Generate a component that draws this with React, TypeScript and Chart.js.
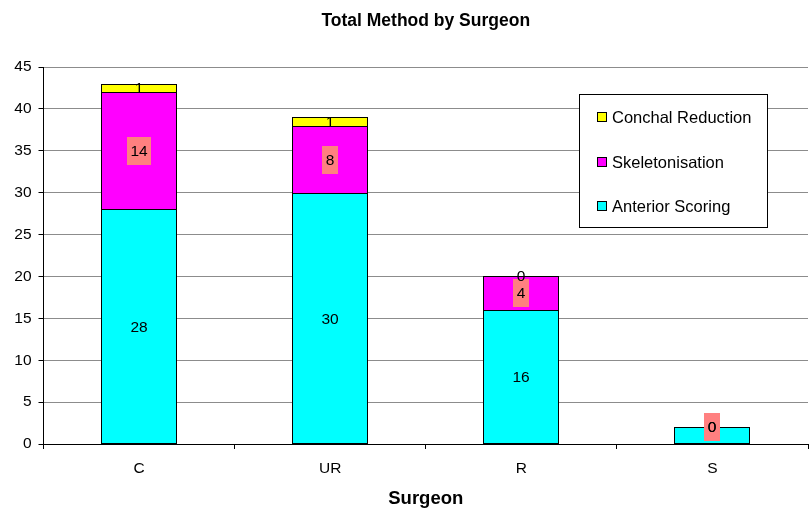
import React, { useEffect, useRef } from "react";
import { Chart, registerables } from "chart.js";

Chart.register(...registerables);

const chartTitle = "Total Method by Surgeon";
const xAxisTitle = "Surgeon";
const surgeons = ["C", "UR", "R", "S"];
const seriesNames = ["Anterior Scoring", "Skeletonisation", "Conchal Reduction"];
const anteriorScoring = [28, 30, 16, 2];
const skeletonisation = [14, 8, 4, 0];
const conchalReduction = [1, 1, 0, 0];
const yMin = 0;
const yMax = 45;
const yStep = 5;

const seriesColors = ["#00FFFF", "#FF00FF", "#FFFF00"];
const labelBoxColors = [null, "#FF8080", null];
const FONT = '"Liberation Sans", Arial, Helvetica, sans-serif';

// snap bar rectangles to whole pixels so the black outlines are crisp, and let
// stacked segments share one outline line with the segment below
const pixelSnap = {
  id: "pixelSnap",
  afterDatasetsUpdate(chart: any) {
    chart.data.datasets.forEach((_ds: any, i: number) => {
      const meta = chart.getDatasetMeta(i);
      meta.data.forEach((el: any) => {
        const w = Math.round(el.width);
        const left = Math.round(el.x - el.width / 2);
        el.width = w;
        el.x = left + w / 2;
        el.y = Math.round(el.y);
        el.base = Math.round(el.base) + (i > 0 ? 1 : 0);
      });
    });
  },
};

const segmentLabels = {
  id: "segmentLabels",
  afterDatasetsDraw(chart: any) {
    const ctx = chart.ctx;
    ctx.save();
    ctx.font = `15.5px ${FONT}`;
    ctx.textAlign = "center";
    ctx.textBaseline = "middle";
    chart.data.datasets.forEach((ds: any, i: number) => {
      const meta = chart.getDatasetMeta(i);
      meta.data.forEach((el: any, j: number) => {
        const text = String(ds.data[j]);
        const base = el.base - (i > 0 ? 1 : 0);
        const cy = (el.y + base) / 2;
        const box = labelBoxColors[i];
        if (box) {
          const w = ctx.measureText(text).width + 7;
          ctx.fillStyle = box;
          ctx.fillRect(Math.round(el.x - w / 2), Math.round(cy - 14), Math.round(w), 28);
        }
        ctx.fillStyle = "#000";
        ctx.fillText(text, el.x, cy + 1);
      });
    });
    ctx.restore();
  },
};

const titleAndLegend = {
  id: "titleAndLegend",
  afterDraw(chart: any) {
    const { ctx, chartArea } = chart;
    ctx.save();
    ctx.font = `bold 17.5px ${FONT}`;
    ctx.fillStyle = "#000";
    ctx.textAlign = "center";
    ctx.textBaseline = "alphabetic";
    ctx.fillText(chartTitle, (chartArea.left + chartArea.right) / 2, 26);

    const bx = Math.round(chartArea.right - 229);
    const by = Math.round(chartArea.top + 27);
    const bw = 188;
    const bh = 133;
    ctx.fillStyle = "#fff";
    ctx.fillRect(bx, by, bw, bh);
    ctx.strokeStyle = "#000";
    ctx.lineWidth = 1;
    ctx.strokeRect(bx + 0.5, by + 0.5, bw, bh);
    ctx.font = `16.5px ${FONT}`;
    ctx.textAlign = "left";
    ctx.textBaseline = "middle";
    const ds = chart.data.datasets;
    for (let k = 0; k < ds.length; k++) {
      const d = ds[ds.length - 1 - k];
      const rowY = Math.round(by + 23 + k * 44.7);
      ctx.fillStyle = d.backgroundColor;
      ctx.fillRect(bx + 18, rowY - 5, 10, 10);
      ctx.strokeStyle = "#000";
      ctx.strokeRect(bx + 18.5, rowY - 4.5, 9, 9);
      ctx.fillStyle = "#000";
      ctx.fillText(d.label, bx + 33, rowY + 1);
    }
    ctx.restore();
  },
};

export default function App() {
  const canvasRef = useRef<HTMLCanvasElement | null>(null);

  useEffect(() => {
    document.body.style.margin = "0";
    const canvas = canvasRef.current;
    if (!canvas) return;
    const values = [anteriorScoring, skeletonisation, conchalReduction];
    const chart = new Chart(canvas, {
      type: "bar",
      data: {
        labels: surgeons,
        datasets: values.map((v, i) => ({
          label: seriesNames[i],
          data: v,
          backgroundColor: seriesColors[i],
          borderColor: "#000",
          borderWidth: 1,
          borderSkipped: false,
          barPercentage: 0.4,
          categoryPercentage: 1,
        })),
      },
      options: {
        responsive: false,
        animation: false,
        devicePixelRatio: 1,
        layout: { padding: { top: 67, right: 2, left: 0, bottom: 0 } },
        plugins: {
          legend: { display: false },
          title: { display: false },
          tooltip: { enabled: false },
        },
        scales: {
          x: {
            stacked: true,
            offset: true,
            afterFit: (scale: any) => {
              scale.height = 74;
            },
            grid: {
              display: true,
              offset: true,
              drawOnChartArea: false,
              drawTicks: true,
              tickLength: 5,
              tickColor: "#000",
            },
            border: { display: true, color: "#000", width: 1 },
            ticks: {
              color: "#000",
              font: { family: FONT, size: 15.5 },
              padding: 10,
              maxRotation: 0,
            },
            title: {
              display: true,
              text: xAxisTitle,
              color: "#000",
              font: { family: FONT, size: 18.5, weight: "bold" },
              padding: { top: 0, bottom: 8 },
            },
          },
          y: {
            stacked: true,
            min: yMin,
            max: yMax,
            afterFit: (scale: any) => {
              scale.width = 43.5;
            },
            grid: {
              color: "#8c8c8c",
              tickColor: "#000",
              tickLength: 5,
              drawTicks: true,
            },
            border: { display: true, color: "#000", width: 1 },
            ticks: {
              stepSize: yStep,
              color: "#000",
              font: { family: FONT, size: 15.5 },
              padding: 7,
            },
          },
        },
      },
      plugins: [pixelSnap, segmentLabels, titleAndLegend],
    });
    return () => chart.destroy();
  }, []);

  return (
    <div style={{ width: 810, height: 518 }}>
      <canvas ref={canvasRef} width={810} height={518} style={{ display: "block" }} />
    </div>
  );
}
